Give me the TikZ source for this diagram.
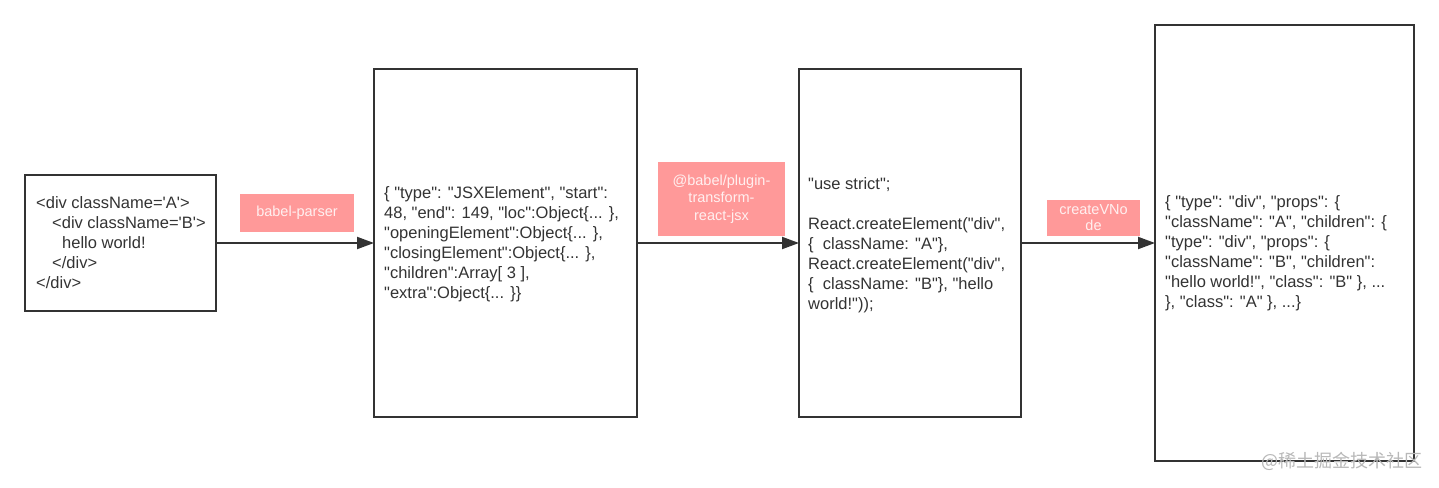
\documentclass[tikz,border=0pt]{standalone}
\usepackage{fontspec}
\newfontfamily\diafont{Liberation Sans}
\newfontfamily\cjkfont{Noto Sans CJK SC}
\usetikzlibrary{arrows.meta}
\definecolor{ink}{HTML}{333333}
\definecolor{salmon}{HTML}{FF9999}
\definecolor{labtext}{HTML}{FFF0F0}
\definecolor{wmgray}{HTML}{B8B8B8}
\begin{document}
\begin{tikzpicture}[x=1pt,y=-1pt,
  box/.style={draw=ink,line width=2pt,inner sep=0pt,outer sep=0pt,fill=white},
  content/.style={font=\diafont\fontsize{16.5}{20}\selectfont,align=left,inner sep=0pt,anchor=west,text=ink},
  tag/.style={fill=salmon,text=labtext,font=\diafont\fontsize{14.5}{17.5}\selectfont,align=center,inner sep=0pt},
  flow/.style={draw=ink,line width=2pt,-{Triangle[length=17pt,width=12pt]}}]
\useasboundingbox (0,0) rectangle (1439,487);
\fill[white] (0,0) rectangle (1439,487);

% boxes
\node[box,minimum width=191pt,minimum height=136pt] (b1) at (120.5,243) {};
\node[box,minimum width=263pt,minimum height=348pt] (b2) at (505.5,243) {};
\node[box,minimum width=222pt,minimum height=348pt] (b3) at (910,243) {};
\node[box,minimum width=259pt,minimum height=436pt] (b4) at (1284.5,243) {};

% contents
\node[content] (c1) at (36,243) {<div className='A'>\\
\hspace*{16pt}<div className='B'>\\
\hspace*{26pt}hello world!\\
\hspace*{16pt}</div>\\
</div>};

\node[content] (c2) at (384,244) {\{ "type": "JSXElement", "start":\\
48, "end": 149, "loc":Object\{... \},\\
"openingElement":Object\{... \},\\
"closingElement":Object\{... \},\\
"children":Array[ 3 ],\\
"extra":Object\{... \}\}};

\node[content] (c3) at (808,245) {"use strict";\\[20pt]
React.createElement("div",\\
\{\ \ className: "A"\},\\
React.createElement("div",\\
\{\ \ className: "B"\}, "hello\\
world!"));};

\node[content] (c4) at (1165,253) {\{ "type": "div", "props": \{\\
"className": "A", "children": \{\\
"type": "div", "props": \{\\
"className": "B", "children":\\
"hello world!", "class": "B" \}, ...\\
\}, "class": "A" \}, ...\}};

% connectors
\draw[flow] (b1) -- (b2);
\draw[flow] (b2) -- (b3);
\draw[flow] (b3) -- (b4);

% tags
\node[tag,minimum width=114pt,minimum height=38pt] (t1) at (297,213) {babel-parser};
\node[tag,minimum width=127pt,minimum height=74pt] (t2) at (721.5,199) {@babel/plugin-\\transform-\\react-jsx};
\node[tag,minimum width=93pt,minimum height=36pt,font=\diafont\fontsize{14.5}{16}\selectfont] (t3) at (1093.5,218) {createVNo\\de};

% watermark
\node[font=\cjkfont\fontsize{18}{18}\selectfont,text=wmgray,anchor=west,inner sep=0pt] (wm) at (1261,461) {@稀土掘金技术社区};
\end{tikzpicture}
\end{document}
